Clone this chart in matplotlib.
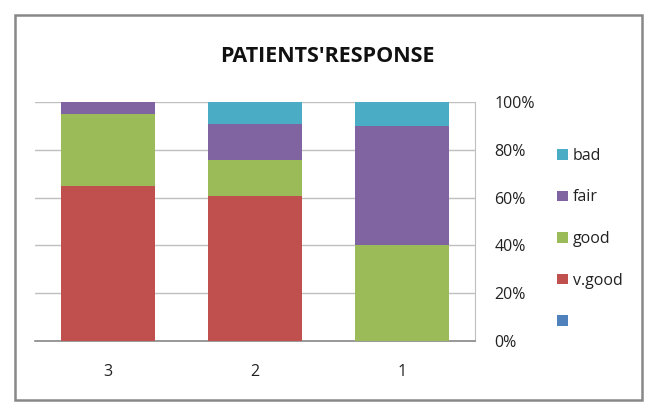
import matplotlib
matplotlib.use('Agg')
from matplotlib import pyplot as plt
from matplotlib.patches import Rectangle, Patch
from matplotlib.ticker import FuncFormatter
import numpy as np

# 数据
categories = ['3', '2', '1']
blank = [0, 0, 0]
vgood = [65, 60.6, 0]
good = [30, 15.2, 40]
fair = [5, 15.1, 50]
bad = [0, 9.1, 10]

series = [('', blank, '#4F81BD'),
          ('v.good', vgood, '#C0504D'),
          ('good', good, '#9BBB59'),
          ('fair', fair, '#8064A2'),
          ('bad', bad, '#4BACC6')]

plt.rcParams['font.family'] = ['Open Sans', 'DejaVu Sans']

fig = plt.figure(figsize=(6.58, 4.17), dpi=100)
ax = fig.add_axes([35 / 658, 1 - 340.7 / 417, 440 / 658, 238.4 / 417])

x = np.arange(len(categories))
bottom = np.zeros(len(categories))
handles = []
for name, vals, color in series:
    ax.bar(x, vals, 0.64, bottom=bottom, color=color, zorder=3)
    bottom += np.array(vals)
    handles.append(Patch(facecolor=color, label=name))

ax.set_xlim(-0.5, 2.5)
ax.set_ylim(0, 100)
ax.set_xticks(x)
ax.set_xticklabels(categories)
ax.set_yticks(range(0, 101, 20))
ax.yaxis.set_major_formatter(FuncFormatter(lambda v, p: '%d%%' % v))
ax.yaxis.tick_right()
ax.tick_params(axis='y', length=0, pad=14, labelsize=11.5, colors='#222222')
ax.tick_params(axis='x', length=0, pad=17, labelsize=11.5, colors='#222222')
ax.grid(axis='y', color='#BFBFBF', lw=1, zorder=0)
for s in ['top', 'left']:
    ax.spines[s].set_visible(False)
ax.spines['right'].set_color('#BFBFBF')
ax.spines['bottom'].set_color('#888888')
ax.spines['bottom'].set_linewidth(1.2)

fig.text(0.497, 1 - 57 / 417, "PATIENTS'RESPONSE", ha='center', va='center',
         fontsize=15.5, fontweight='bold', color='#111111')

fig.legend(handles=handles[::-1], loc='center left',
           bbox_to_anchor=(543 / 658, 1 - 239 / 417), frameon=False,
           fontsize=11.5, handlelength=0.65, handleheight=0.65,
           handletextpad=0.3, labelspacing=1.6, labelcolor='#222222')

fig.patches.append(Rectangle((15 / 658, 1 - 400 / 417), 627 / 658, 385 / 417,
                             transform=fig.transFigure, fill=False,
                             edgecolor='#888888', lw=1.8))

plt.savefig('out.png', dpi=100)
